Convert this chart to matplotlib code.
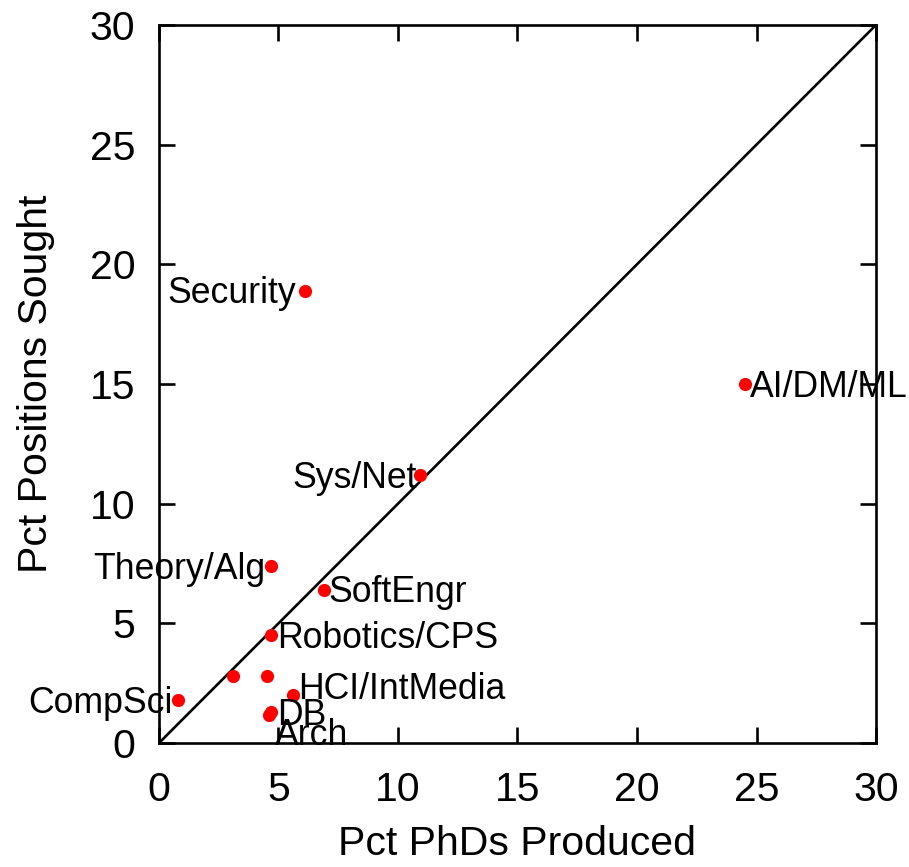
import matplotlib
matplotlib.use("Agg")
import matplotlib.pyplot as plt

# Share of PhDs produced vs. share of positions sought, by research area
areas = ["Security", "AI/DM/ML", "Sys/Net", "Theory/Alg", "SoftEngr",
         "Robotics/CPS", "", "", "HCI/IntMedia", "CompSci", "DB", "Arch"]
pct_phds = [6.1, 24.5, 10.9, 4.7, 6.9, 4.7, 3.1, 4.5, 5.6, 0.8, 4.7, 4.6]
pct_positions = [18.9, 15.0, 11.2, 7.4, 6.4, 4.5, 2.8, 2.8, 2.0, 1.8, 1.3, 1.15]

x_ticks = [0, 5, 10, 15, 20, 25, 30]
y_ticks = [0, 5, 10, 15, 20, 25, 30]

# label placement: (horizontal alignment, dx pt, dy pt)
placement = {
    "Security": ("right", -6.5, -9.1),
    "AI/DM/ML": ("left", 4.0, -9.1),
    "Sys/Net": ("right", -2.0, -9.1),
    "Theory/Alg": ("right", -4.3, -9.1),
    "SoftEngr": ("left", 3.5, -9.1),
    "Robotics/CPS": ("left", 4.3, -9.1),
    "HCI/IntMedia": ("left", 4.0, -2.8),
    "CompSci": ("right", -3.8, -9.1),
    "DB": ("left", 4.3, -9.5),
    "Arch": ("left", 4.3, -21.5),
}

plt.rcParams["font.family"] = ["Liberation Sans", "DejaVu Sans"]

fig = plt.figure(figsize=(9.09, 8.67), dpi=100)
ax = fig.add_axes([0.1749, 0.1430, 0.9637 - 0.1749, 0.9712 - 0.1430])

ax.plot([0, 30], [0, 30], color="black", lw=1.9, zorder=2)
ax.plot(pct_phds, pct_positions, "o", color="#ff0000", markersize=9.5,
        markeredgewidth=0, zorder=3, clip_on=False)

for name, xv, yv in zip(areas, pct_phds, pct_positions):
    if not name:
        continue
    ha, dx, dy = placement[name]
    ax.annotate(name, (xv, yv), xytext=(dx, dy), textcoords="offset points",
                ha=ha, va="baseline", fontsize=25.7, color="black",
                annotation_clip=False, zorder=4)

ax.set_xlim(0, 30)
ax.set_ylim(0, 30)
ax.set_xticks(x_ticks)
ax.set_yticks(y_ticks)
ax.tick_params(axis="both", direction="in", length=11.5, width=1.9,
               top=True, right=True, labelsize=29.5)
ax.tick_params(axis="x", pad=20)
ax.tick_params(axis="y", pad=17)
for sp in ax.spines.values():
    sp.set_linewidth(1.9)

ax.set_xlabel("Pct PhDs Produced", fontsize=29.5, labelpad=12)
ax.set_ylabel("Pct Positions Sought", fontsize=29.5, labelpad=25)

fig.savefig("out.png", dpi=100)
